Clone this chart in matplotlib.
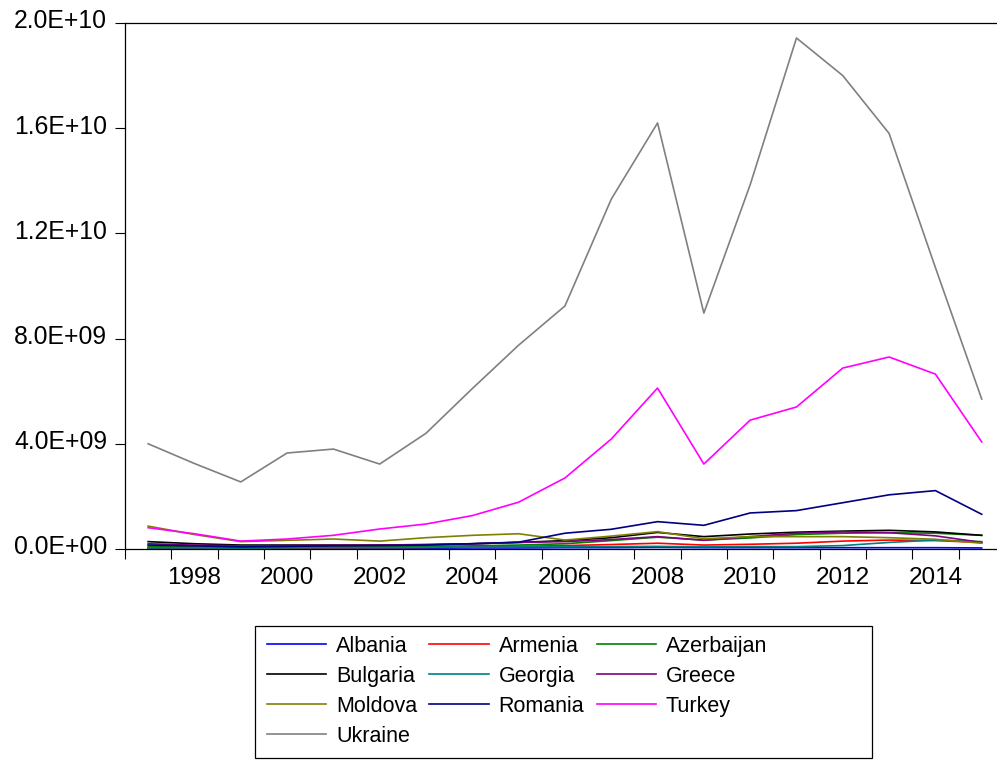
import numpy as np
import matplotlib
matplotlib.use("Agg")
import matplotlib.pyplot as plt
import matplotlib.transforms as mtransforms
from matplotlib.patches import Rectangle
from matplotlib.ticker import FixedLocator, FuncFormatter

plt.rcParams['font.family'] = ['Liberation Sans', 'DejaVu Sans']

years = list(range(1997, 2016))

# valores em bilhões (1e9)
albania    = [0.02, 0.02, 0.02, 0.02, 0.03, 0.03, 0.03, 0.04, 0.04, 0.05, 0.05, 0.06, 0.05, 0.05, 0.05, 0.05, 0.05, 0.05, 0.04]
armenia    = [0.05, 0.04, 0.03, 0.03, 0.04, 0.05, 0.06, 0.08, 0.10, 0.13, 0.17, 0.22, 0.15, 0.18, 0.22, 0.30, 0.34, 0.32, 0.25]
azerbaijan = [0.10, 0.08, 0.06, 0.07, 0.08, 0.09, 0.10, 0.12, 0.15, 0.20, 0.32, 0.45, 0.34, 0.42, 0.55, 0.60, 0.62, 0.60, 0.52]
bulgaria   = [0.28, 0.20, 0.15, 0.15, 0.15, 0.15, 0.17, 0.20, 0.25, 0.32, 0.43, 0.63, 0.47, 0.57, 0.64, 0.68, 0.71, 0.65, 0.52]
georgia    = [0.04, 0.04, 0.03, 0.04, 0.05, 0.05, 0.06, 0.07, 0.08, 0.08, 0.09, 0.10, 0.08, 0.09, 0.09, 0.13, 0.25, 0.34, 0.28]
greece     = [0.20, 0.15, 0.12, 0.13, 0.14, 0.15, 0.16, 0.20, 0.25, 0.28, 0.36, 0.47, 0.33, 0.47, 0.60, 0.65, 0.62, 0.50, 0.25]
moldova    = [0.87, 0.55, 0.28, 0.33, 0.38, 0.30, 0.43, 0.52, 0.58, 0.34, 0.49, 0.66, 0.39, 0.47, 0.47, 0.47, 0.43, 0.37, 0.22]
romania    = [0.15, 0.12, 0.08, 0.10, 0.12, 0.13, 0.15, 0.20, 0.26, 0.60, 0.75, 1.04, 0.90, 1.37, 1.46, 1.76, 2.06, 2.22, 1.32]
turkey     = [0.81, 0.58, 0.30, 0.38, 0.52, 0.76, 0.95, 1.27, 1.78, 2.70, 4.18, 6.12, 3.23, 4.90, 5.40, 6.88, 7.30, 6.65, 4.07]
ukraine    = [4.00, 3.25, 2.55, 3.65, 3.80, 3.23, 4.40, 6.10, 7.75, 9.24, 13.30, 16.20, 8.97, 13.85, 19.43, 18.00, 15.80, 10.70, 5.70]

names = ['Albania', 'Armenia', 'Azerbaijan', 'Bulgaria', 'Georgia',
         'Greece', 'Moldova', 'Romania', 'Turkey', 'Ukraine']
series = [albania, armenia, azerbaijan, bulgaria, georgia,
          greece, moldova, romania, turkey, ukraine]
colors = ['#0000ff', '#ff0000', '#008000', '#000000', '#008080',
          '#800080', '#808000', '#000080', '#ff00ff', '#808080']

fig = plt.figure(figsize=(9.97, 7.6), dpi=100)
ax = fig.add_axes([125/997, 211/760, 872/997, 526/760])

handles = {}
for nome, vals, cor in zip(names, series, colors):
    h, = ax.plot(years, np.array(vals) * 1e9, color=cor, lw=1.2)
    handles[nome] = h

ax.set_xlim(1996.5, 2015.33)
ax.set_ylim(0, 2.0e10)

# eixo y
ax.set_yticks(np.arange(0, 2.01e10, 4e9))
ax.yaxis.set_major_formatter(FuncFormatter(lambda v, p: f"{v:.1E}"))
ax.tick_params(axis='y', direction='out', length=7, width=0.8, pad=6, labelsize=17.8)
desloc = mtransforms.ScaledTranslation(0, 4/100, fig.dpi_scale_trans)   # rótulos um pouco acima da marca
for lab in ax.get_yticklabels():
    lab.set_transform(lab.get_transform() + desloc)

# eixo x: marcas nos limites dos anos, rótulos nos anos pares
ax.xaxis.set_major_locator(FixedLocator(list(range(1998, 2015, 2))))
ax.xaxis.set_minor_locator(FixedLocator(np.arange(1996.5, 2015.4, 1.0)))
ax.tick_params(axis='x', which='major', length=0, pad=13, labelsize=17.5)
ax.tick_params(axis='x', which='minor', direction='out', length=7, width=0.8)

ax.spines['right'].set_visible(False)
for s in ['left', 'top', 'bottom']:
    ax.spines[s].set_linewidth(0.9)

# legenda em ordem por linha (matplotlib preenche por coluna)
ordem = ['Albania', 'Bulgaria', 'Moldova', 'Ukraine',
         'Armenia', 'Georgia', 'Romania',
         'Azerbaijan', 'Greece', 'Turkey']
leg = fig.legend([handles[n] for n in ordem], ordem, ncol=3,
                 loc='upper left', bbox_to_anchor=(257/997, 1 - 626/760),
                 fontsize=15.5, frameon=False,
                 handlelength=2.75, handletextpad=0.47, columnspacing=0.57,
                 labelspacing=0.42, borderpad=0.45, borderaxespad=0)

# moldura da legenda (mais larga que o conteúdo, como no original)
fig.patches.append(Rectangle((255/997, 1 - 758/760), (872 - 255)/997, (758 - 626)/760,
                             transform=fig.transFigure, fill=False,
                             edgecolor='black', linewidth=0.9))

fig.savefig('out.png', dpi=100)
